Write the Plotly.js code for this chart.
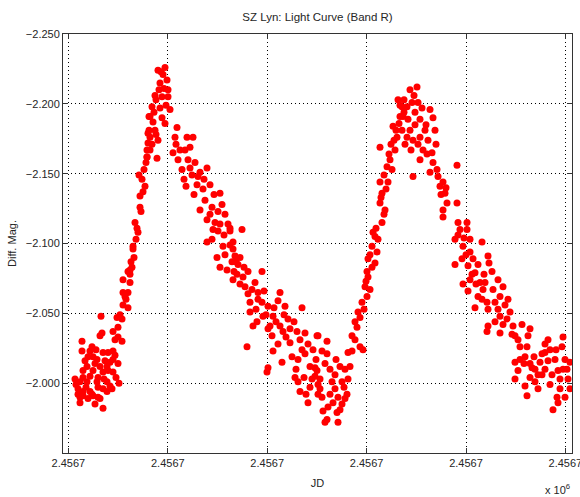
<!DOCTYPE html>
<html>
<head>
<meta charset="utf-8">
<script src="https://cdn.plot.ly/plotly-3.0.1.min.js"></script>
<style>html,body{margin:0;padding:0;background:#fff;}#chart{width:580px;height:497px;}</style>
</head>
<body>
<div id="chart"></div>
<script>
// Julian Date = JD0 + jdOffset (days)
const JD0 = 2456717.3;
const jdOffset = [
0.0070,0.0070,0.0120,0.0165,0.0170,0.0160,0.0100,0.0125,0.0145,0.0175,
0.0200,0.0225,0.0225,0.0250,0.0210,0.0195,0.0160,0.0095,0.0075,0.0125,
0.0175,0.0225,0.0200,0.0075,0.0110,0.0150,0.0060,0.0095,0.0145,0.0195,
0.0210,0.0255,0.0050,0.0075,0.0110,0.0150,0.0175,0.0220,0.0060,0.0075,
0.0125,0.0150,0.0060,0.0135,0.0175,0.0160,0.0195,0.0120,0.0090,0.0040,
0.0135,0.0185,0.0235,0.0085,0.0050,0.0100,0.0180,0.0240,0.0110,0.0140,
0.0035,
0.0235,0.0250,0.0270,0.0225,0.0250,0.0245,0.0270,0.0260,0.0275,
0.0300,0.0285,0.0300,0.0275,0.0275,0.0310,0.0310,0.0320,0.0300,0.0310,
0.0325,0.0325,0.0350,0.0335,0.0360,0.0360,0.0385,0.0355,0.0390,0.0395,
0.0400,0.0405,0.0405,0.0340,0.0345,0.0365,0.0375,0.0370,0.0380,0.0395,
0.0410,0.0330,0.0315,0.0290,
0.0485,0.0450,0.0460,0.0470,0.0420,0.0410,0.0400,0.0435,0.0395,0.0445,
0.0410,0.0500,0.0510,0.0485,0.0470,0.0475,0.0495,0.0455,0.0480,0.0440,
0.0490,0.0430,0.0460,0.0425,0.0450,0.0420,0.0440,0.0500,0.0465,0.0435,
0.0545,0.0535,0.0625,0.0595,0.0525,0.0550,0.0570,0.0600,0.0635,0.0695,
0.0650,0.0645,0.0675,0.0760,0.0660,0.0685,0.0720,0.0770,0.0695,0.0735,
0.0785,0.0810,0.0695,0.0720,0.0745,0.0775,0.0795,0.0825,0.0830,0.0560,
0.0585,0.0610,0.0540,0.0580,0.0620,0.0610,0.0660,0.0590,0.0630,0.0710,
0.0730,0.0680,0.0750,0.0710,0.0760,0.0800,0.0780,0.0750,0.0725,0.0820,
0.0785,0.0760,0.0810,0.0840,0.0860,
0.0810,0.0870,0.0825,0.0835,0.0825,0.0900,0.0970,0.0885,0.0935,0.0950,
0.0910,0.0970,0.0910,0.0925,0.0975,0.1000,0.1060,0.1050,0.1085,0.1025,
0.1010,0.1060,0.1100,0.1170,0.1020,0.1050,0.0895,0.1025,0.1070,0.1000,
0.0995,0.1110,0.1145,0.1185,0.1170,0.1120,0.1135,0.1210,0.1225,0.1250,
0.1150,0.1210,0.1200,0.1250,0.1235,0.0850,0.0875,0.0860,0.0920,0.0900,
0.0950,0.0980,0.0940,0.0990,0.1030,0.1000,0.1040,0.1080,0.1110,0.1130,
0.1090,0.1160,0.1150,0.1185,0.1200,0.1140,0.1180,0.1220,0.1240,0.1160,
0.1190,0.0880,0.0845,0.0945,0.1075,
0.1245,0.1295,0.1295,0.1245,0.1260,0.1270,0.1310,0.1320,0.1275,0.1295,
0.1285,0.1325,0.1345,0.1350,0.1335,0.1360,0.1385,0.1400,0.1395,0.1385,
0.1400,0.1410,0.1370,0.1420,0.1445,0.1460,0.1475,0.1260,0.1285,0.1335,
0.1350,0.1370,0.1310,0.1250,0.1340,0.1380,0.1300,0.1270,0.1235,0.1360,
0.1420,0.1435,
0.1435,0.1450,0.1470,0.1495,0.1485,0.1500,0.1495,0.1500,0.1535,0.1545,
0.1520,0.1535,0.1525,0.1570,0.1560,0.1585,0.1570,0.1560,0.1600,0.1595,
0.1610,0.1635,0.1560,0.1645,0.1660,0.1670,0.1650,0.1625,0.1460,0.1480,
0.1510,0.1490,0.1520,0.1510,0.1550,0.1540,0.1580,0.1565,0.1590,0.1580,
0.1620,0.1605,0.1630,0.1640,0.1615,0.1655,0.1680,
0.1745,0.1710,0.1720,0.1695,0.1750,0.1675,0.1735,0.1670,0.1735,0.1695,
0.1725,0.1760,0.1810,0.1825,0.1835,0.1775,0.1820,0.1795,0.1725,0.1810,
0.1845,0.1945,0.1700,0.1760,0.1710,0.1785,0.1750,0.1800,0.1685,0.1770,
0.1730,0.1790,0.1840,0.1825,0.1760,0.1715,0.1680,0.1660,
0.1850,0.1875,0.1860,0.1885,0.1895,0.1875,0.1875,0.1945,0.1950,0.1995,
0.1935,0.1995,0.1975,0.2010,0.2070,0.1935,0.2000,0.2025,0.2035,0.1975,
0.2060,0.2050,0.2035,0.2100,0.2075,0.2095,0.2100,0.2095,0.1865,0.1890,
0.1960,0.1980,0.2010,0.1990,0.2020,0.2050,0.2040,0.2010,0.2070,0.2080,
0.2000,0.1950,0.1970,
0.2105,0.2120,0.2085,0.2150,0.2175,0.2135,0.2160,0.2100,0.2200,0.2210,
0.2160,0.2135,0.2160,0.2225,0.2235,0.2270,0.2310,0.2300,0.2260,0.2295,
0.2235,0.2285,0.2250,0.2235,0.2285,0.2295,0.2335,0.2335,0.2360,0.2385,
0.2400,0.2410,0.2435,0.2450,0.2470,0.2475,0.2485,0.2510,0.2500,0.2510,
0.2485,0.2445,0.2450,0.2425,0.2410,0.2370,0.2350,0.2320,0.2125,0.2185,
0.2150,0.2195,0.2220,0.2250,0.2280,0.2310,0.2260,0.2385,0.2400,0.2420,
0.2460,0.2475,0.2440,0.2385,0.2350,0.2495,0.2330,0.2370,0.2310,0.2460,
0.2175
];
const diffMag = [
-2.030,-2.023,-2.026,-2.048,-2.036,-2.034,-2.019,-2.019,-2.017,-2.022,
-2.022,-2.023,-2.017,-2.014,-2.015,-2.012,-2.012,-2.012,-2.009,-2.009,
-2.008,-2.008,-2.009,-2.004,-2.005,-2.004,-2.001,-2.001,-2.001,-2.001,
-1.998,-2.000,-1.996,-1.994,-1.994,-1.997,-1.996,-1.996,-1.990,-1.991,
-1.991,-1.990,-1.986,-1.985,-1.982,-1.989,-1.994,-1.992,-1.997,-1.999,
-2.014,-2.016,-2.020,-2.016,-1.992,-1.989,-2.003,-2.004,-2.023,-2.024,
-2.003,
-2.031,-2.033,-2.030,-2.037,-2.040,-2.047,-2.046,-2.049,-2.056,
-2.054,-2.062,-2.065,-2.065,-2.074,-2.072,-2.078,-2.083,-2.080,-2.081,
-2.096,-2.098,-2.108,-2.115,-2.126,-2.134,-2.141,-2.149,-2.158,-2.162,
-2.172,-2.181,-2.191,-2.103,-2.111,-2.123,-2.137,-2.146,-2.153,-2.167,
-2.176,-2.090,-2.087,-2.060,
-2.226,-2.224,-2.215,-2.205,-2.198,-2.191,-2.179,-2.181,-2.162,-2.161,
-2.167,-2.205,-2.196,-2.186,-2.190,-2.221,-2.217,-2.210,-2.211,-2.203,
-2.199,-2.194,-2.197,-2.187,-2.174,-2.171,-2.178,-2.210,-2.223,-2.206,
-2.183,-2.176,-2.176,-2.176,-2.165,-2.160,-2.153,-2.160,-2.158,-2.154,
-2.148,-2.142,-2.139,-2.136,-2.124,-2.131,-2.126,-2.128,-2.117,-2.115,
-2.121,-2.109,-2.101,-2.103,-2.090,-2.098,-2.081,-2.096,-2.080,-2.167,
-2.167,-2.169,-2.171,-2.146,-2.149,-2.154,-2.151,-2.141,-2.135,-2.142,
-2.135,-2.146,-2.123,-2.121,-2.114,-2.114,-2.106,-2.109,-2.110,-2.087,
-2.092,-2.083,-2.099,-2.087,-2.090,
-2.111,-2.110,-2.101,-2.091,-2.074,-2.080,-2.080,-2.069,-2.072,-2.065,
-2.058,-2.058,-2.051,-2.041,-2.048,-2.055,-2.065,-2.059,-2.055,-2.048,
-2.041,-2.041,-2.046,-2.054,-2.034,-2.028,-2.026,-2.023,-2.015,-2.011,
-2.008,-2.029,-2.037,-2.036,-2.024,-2.019,-2.004,-2.012,-2.024,-2.034,
-2.001,-1.997,-1.986,-1.992,-2.005,-2.085,-2.076,-2.071,-2.067,-2.064,
-2.060,-2.066,-2.053,-2.049,-2.054,-2.039,-2.044,-2.049,-2.039,-2.044,
-2.033,-2.031,-2.017,-2.021,-2.028,-2.010,-2.004,-2.003,-2.017,-1.994,
-1.992,-2.083,-2.078,-2.044,-2.037,
-2.034,-2.030,-2.021,-2.009,-1.996,-1.990,-2.010,-2.001,-1.980,-1.974,
-1.972,-1.986,-1.979,-1.972,-1.996,-2.012,-2.010,-2.003,-1.992,-1.989,
-2.022,-2.012,-2.001,-2.034,-2.040,-2.026,-2.024,-2.003,-2.014,-2.006,
-1.990,-1.985,-1.992,-1.999,-2.017,-1.997,-1.983,-2.023,-2.011,-1.981,
-2.023,-2.031,
-2.044,-2.051,-2.058,-2.062,-2.069,-2.076,-2.080,-2.089,-2.086,-2.094,
-2.098,-2.105,-2.108,-2.115,-2.129,-2.124,-2.136,-2.144,-2.144,-2.155,
-2.160,-2.167,-2.169,-2.176,-2.191,-2.198,-2.203,-2.184,-2.047,-2.053,
-2.067,-2.073,-2.083,-2.092,-2.103,-2.111,-2.121,-2.133,-2.139,-2.149,
-2.153,-2.164,-2.174,-2.181,-2.171,-2.186,-2.194,
-2.212,-2.210,-2.201,-2.198,-2.201,-2.191,-2.194,-2.181,-2.185,-2.176,
-2.174,-2.176,-2.196,-2.190,-2.181,-2.167,-2.165,-2.164,-2.148,-2.151,
-2.153,-2.156,-2.189,-2.189,-2.181,-2.181,-2.171,-2.174,-2.171,-2.197,
-2.206,-2.185,-2.171,-2.158,-2.160,-2.167,-2.203,-2.199,
-2.148,-2.144,-2.141,-2.136,-2.129,-2.124,-2.119,-2.129,-2.115,-2.115,
-2.103,-2.110,-2.098,-2.094,-2.101,-2.085,-2.084,-2.089,-2.079,-2.071,
-2.072,-2.062,-2.054,-2.091,-2.067,-2.058,-2.041,-2.037,-2.135,-2.140,
-2.110,-2.104,-2.103,-2.092,-2.078,-2.085,-2.071,-2.074,-2.060,-2.078,
-2.066,-2.106,-2.089,
-2.086,-2.080,-2.072,-2.074,-2.069,-2.058,-2.062,-2.053,-2.060,-2.051,
-2.048,-2.044,-2.036,-2.041,-2.034,-2.042,-2.039,-2.034,-2.026,-2.026,
-2.015,-2.019,-2.009,-2.003,-1.998,-1.991,-2.001,-2.010,-2.015,-2.022,
-2.031,-2.024,-2.017,-2.009,-2.026,-2.033,-2.017,-2.015,-2.003,-1.996,
-1.990,-1.990,-1.986,-1.981,-1.999,-2.006,-1.996,-2.011,-2.067,-2.056,
-2.053,-2.046,-2.035,-2.031,-2.014,-2.014,-2.017,-2.010,-2.016,-2.006,
-2.003,-2.010,-2.024,-2.028,-2.006,-2.010,-2.019,-2.021,-2.004,-1.996,
-2.042
];
const xTickOffsets = [0.0002, 0.0499, 0.0996, 0.1493, 0.1990, 0.2487];
const xTickText = ["2.4567","2.4567","2.4567","2.4567","2.4567","2.4567"];
const yTickVals = [-2.25, -2.2, -2.15, -2.1, -2.05, -2.0];

const jd = jdOffset.map(d => JD0 + d);

const trace = {
  x: jd, y: diffMag, type: 'scatter', mode: 'markers',
  marker: {color: '#ff0000', size: 7, symbol: 'circle', line: {width: 0}},
  hoverinfo: 'x+y', cliponaxis: true
};

const fontFam = '"Liberation Sans", Arial, Helvetica, sans-serif';
const txtCol = '#262626';
const layout = {
  width: 580, height: 497,
  margin: {l: 63, r: 8, t: 34, b: 44, pad: 0},
  paper_bgcolor: '#ffffff', plot_bgcolor: '#ffffff',
  font: {family: fontFam, size: 11, color: txtCol},
  showlegend: false,
  title: {text: 'SZ Lyn: Light Curve (Band R)', x: 0.5, xref: 'paper', y: 1 - 17/497, yref: 'container', yanchor: 'middle', font: {family: fontFam, size: 11.5, color: txtCol}},
  xaxis: {
    range: [JD0 - 0.0025, JD0 + 0.252],
    tickvals: xTickOffsets.map(d => JD0 + d), ticktext: xTickText,
    ticklabeloverflow: 'allow',
    showgrid: true, gridcolor: '#000', griddash: '1px,3px', gridwidth: 1,
    zeroline: false, showline: true, linecolor: '#333', linewidth: 1, mirror: 'ticks',
    ticks: 'inside', ticklen: 5, tickcolor: '#333',
    tickfont: {family: fontFam, size: 11, color: txtCol},
    title: {text: 'JD', standoff: 11, font: {family: fontFam, size: 11, color: txtCol}}
  },
  yaxis: {
    range: [-1.95, -2.25],
    tickvals: yTickVals, tickformat: '.3f',
    showgrid: true, gridcolor: '#000', griddash: '1px,3px', gridwidth: 1,
    zeroline: false, showline: true, linecolor: '#333', linewidth: 1, mirror: 'ticks',
    ticks: 'inside', ticklen: 5, tickcolor: '#333',
    tickfont: {family: fontFam, size: 11, color: txtCol},
    title: {text: 'Diff. Mag.', standoff: 6, font: {family: fontFam, size: 11, color: txtCol}}
  },
  annotations: [{
    text: 'x 10<sup>6</sup>', xref: 'paper', yref: 'paper',
    x: (557 - 63) / 509, y: (453 - 489) / 419, xanchor: 'center', yanchor: 'middle',
    showarrow: false, font: {family: fontFam, size: 11, color: txtCol}
  }]
};

Plotly.newPlot('chart', [trace], layout, {displayModeBar: false, staticPlot: true});
</script>
</body>
</html>
